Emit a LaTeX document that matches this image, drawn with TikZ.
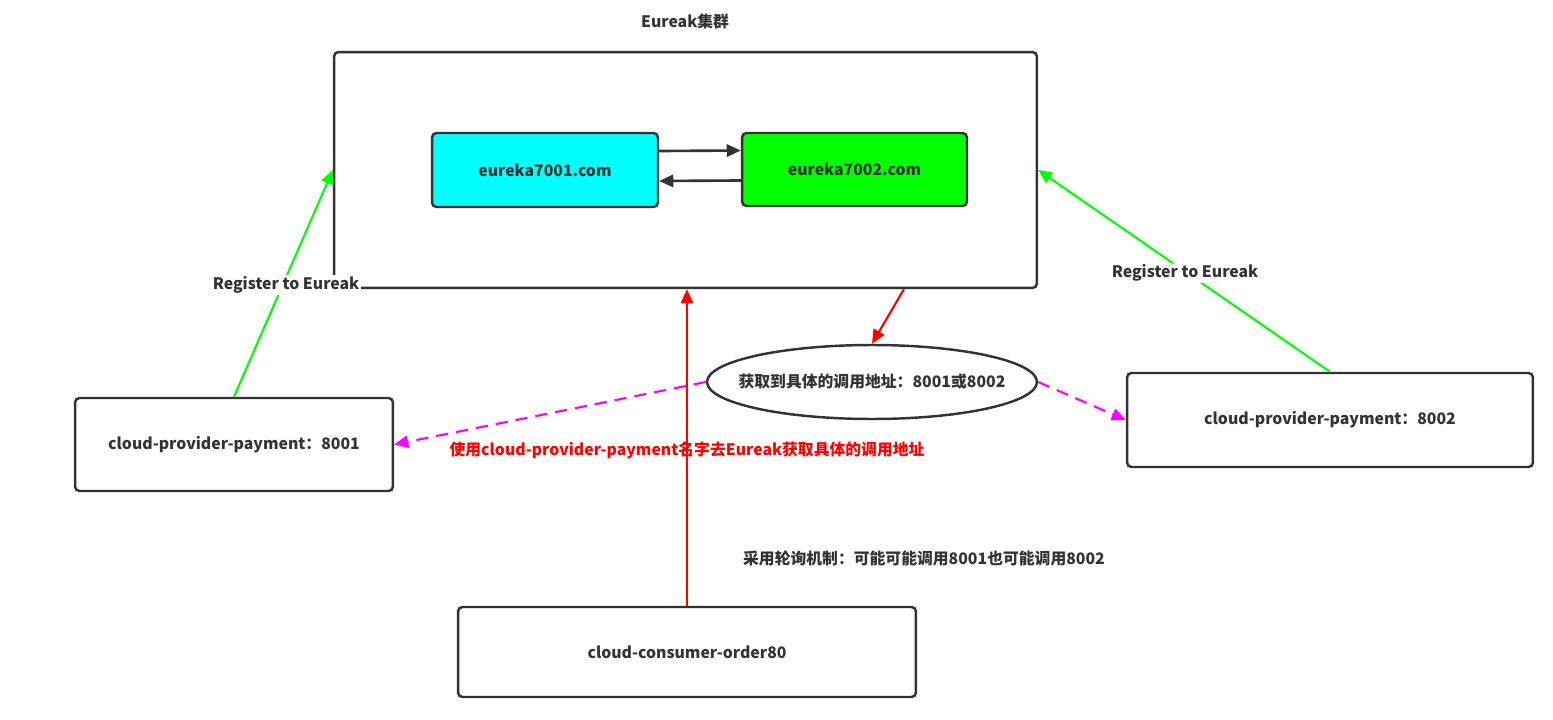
\documentclass[tikz,border=0pt]{standalone}
\usepackage{fontspec}
\setmainfont{Noto Sans CJK SC}
\usetikzlibrary{arrows.meta,shapes.geometric}
\definecolor{ink}{HTML}{333333}
\definecolor{cyanfill}{HTML}{00FFFF}
\definecolor{greenfill}{HTML}{00FF00}
\definecolor{magline}{HTML}{FF00FF}
\tikzset{
  box/.style={draw=ink, line width=1.4pt, rounded corners=2.5pt, inner sep=0pt, align=center, text=ink, font=\fontsize{9}{11}\selectfont\bfseries},
  lbl/.style={text=ink, font=\fontsize{9}{11}\selectfont\bfseries, inner sep=1pt},
  tip/.style={-{Triangle[length=8pt,width=7pt]}},
  blackarr/.style={tip, draw=ink, line width=1.5pt},
  redarr/.style={tip, draw=red, line width=1.2pt},
  greenarr/.style={tip, draw=greenfill, line width=1.2pt},
  magarr/.style={tip, draw=magline, line width=1.2pt, dash pattern=on 7pt off 4.5pt},
}
\begin{document}
\begin{tikzpicture}[x=0.02cm,y=-0.02cm]
\useasboundingbox (0,0) rectangle (1553,720);
% Title
\node[lbl] (title) at (685,21) {Eureak集群};
% outer cluster box
\node[box, minimum width=14.06cm, minimum height=4.72cm] (outer) at (685.5,170) {};
\node[box, fill=cyanfill, minimum width=4.52cm, minimum height=1.48cm] (e1) at (545,170) {eureka7001.com};
\node[box, fill=greenfill, minimum width=4.5cm, minimum height=1.46cm] (e2) at (854.5,169.5) {eureka7002.com};
\draw[blackarr] ([yshift=0.38cm]e1.east) -- ([yshift=0.38cm]e2.west);
\draw[blackarr] ([yshift=-0.22cm]e2.west) -- ([yshift=-0.22cm]e1.east);
% providers and consumer
\node[box, minimum width=6.36cm, minimum height=1.86cm] (p1) at (234,444.5) {cloud-provider-payment：8001};
\node[box, minimum width=8.12cm, minimum height=1.88cm] (p2) at (1330,420) {cloud-provider-payment：8002};
\node[box, minimum width=9.16cm, minimum height=1.8cm] (cons) at (687,652) {cloud-consumer-order80};
% ellipse
\node[box, ellipse, minimum width=6.6cm, minimum height=1.48cm] (ell) at (872,382) {};
\node[lbl] (elltext) at (ell.center) {获取到具体的调用地址：8001或8002};
% connectors
\draw[greenarr] (p1.north) -- (outer.west);
\draw[greenarr] (p2.north) -- (outer.east);
\draw[redarr] ([xshift=4.37cm]outer.south) -- (ell.north);
\draw[redarr] (cons.north) -- (cons.north |- outer.south);
\draw[magarr] (ell.west) -- (p1.east);
\draw[magarr] (ell.east) -- (p2.west);
% labels
\node[lbl, fill=white] (reg1) at (286,285) {Register to Eureak};
\node[lbl, fill=white] (reg2) at (1185,273) {Register to Eureak};
\node[lbl, text=red] (use) at (687,450) {使用cloud-provider-payment名字去Eureak获取具体的调用地址};
\node[lbl] (poll) at (924,559) {采用轮询机制：可能可能调用8001也可能调用8002};
\end{tikzpicture}
\end{document}
